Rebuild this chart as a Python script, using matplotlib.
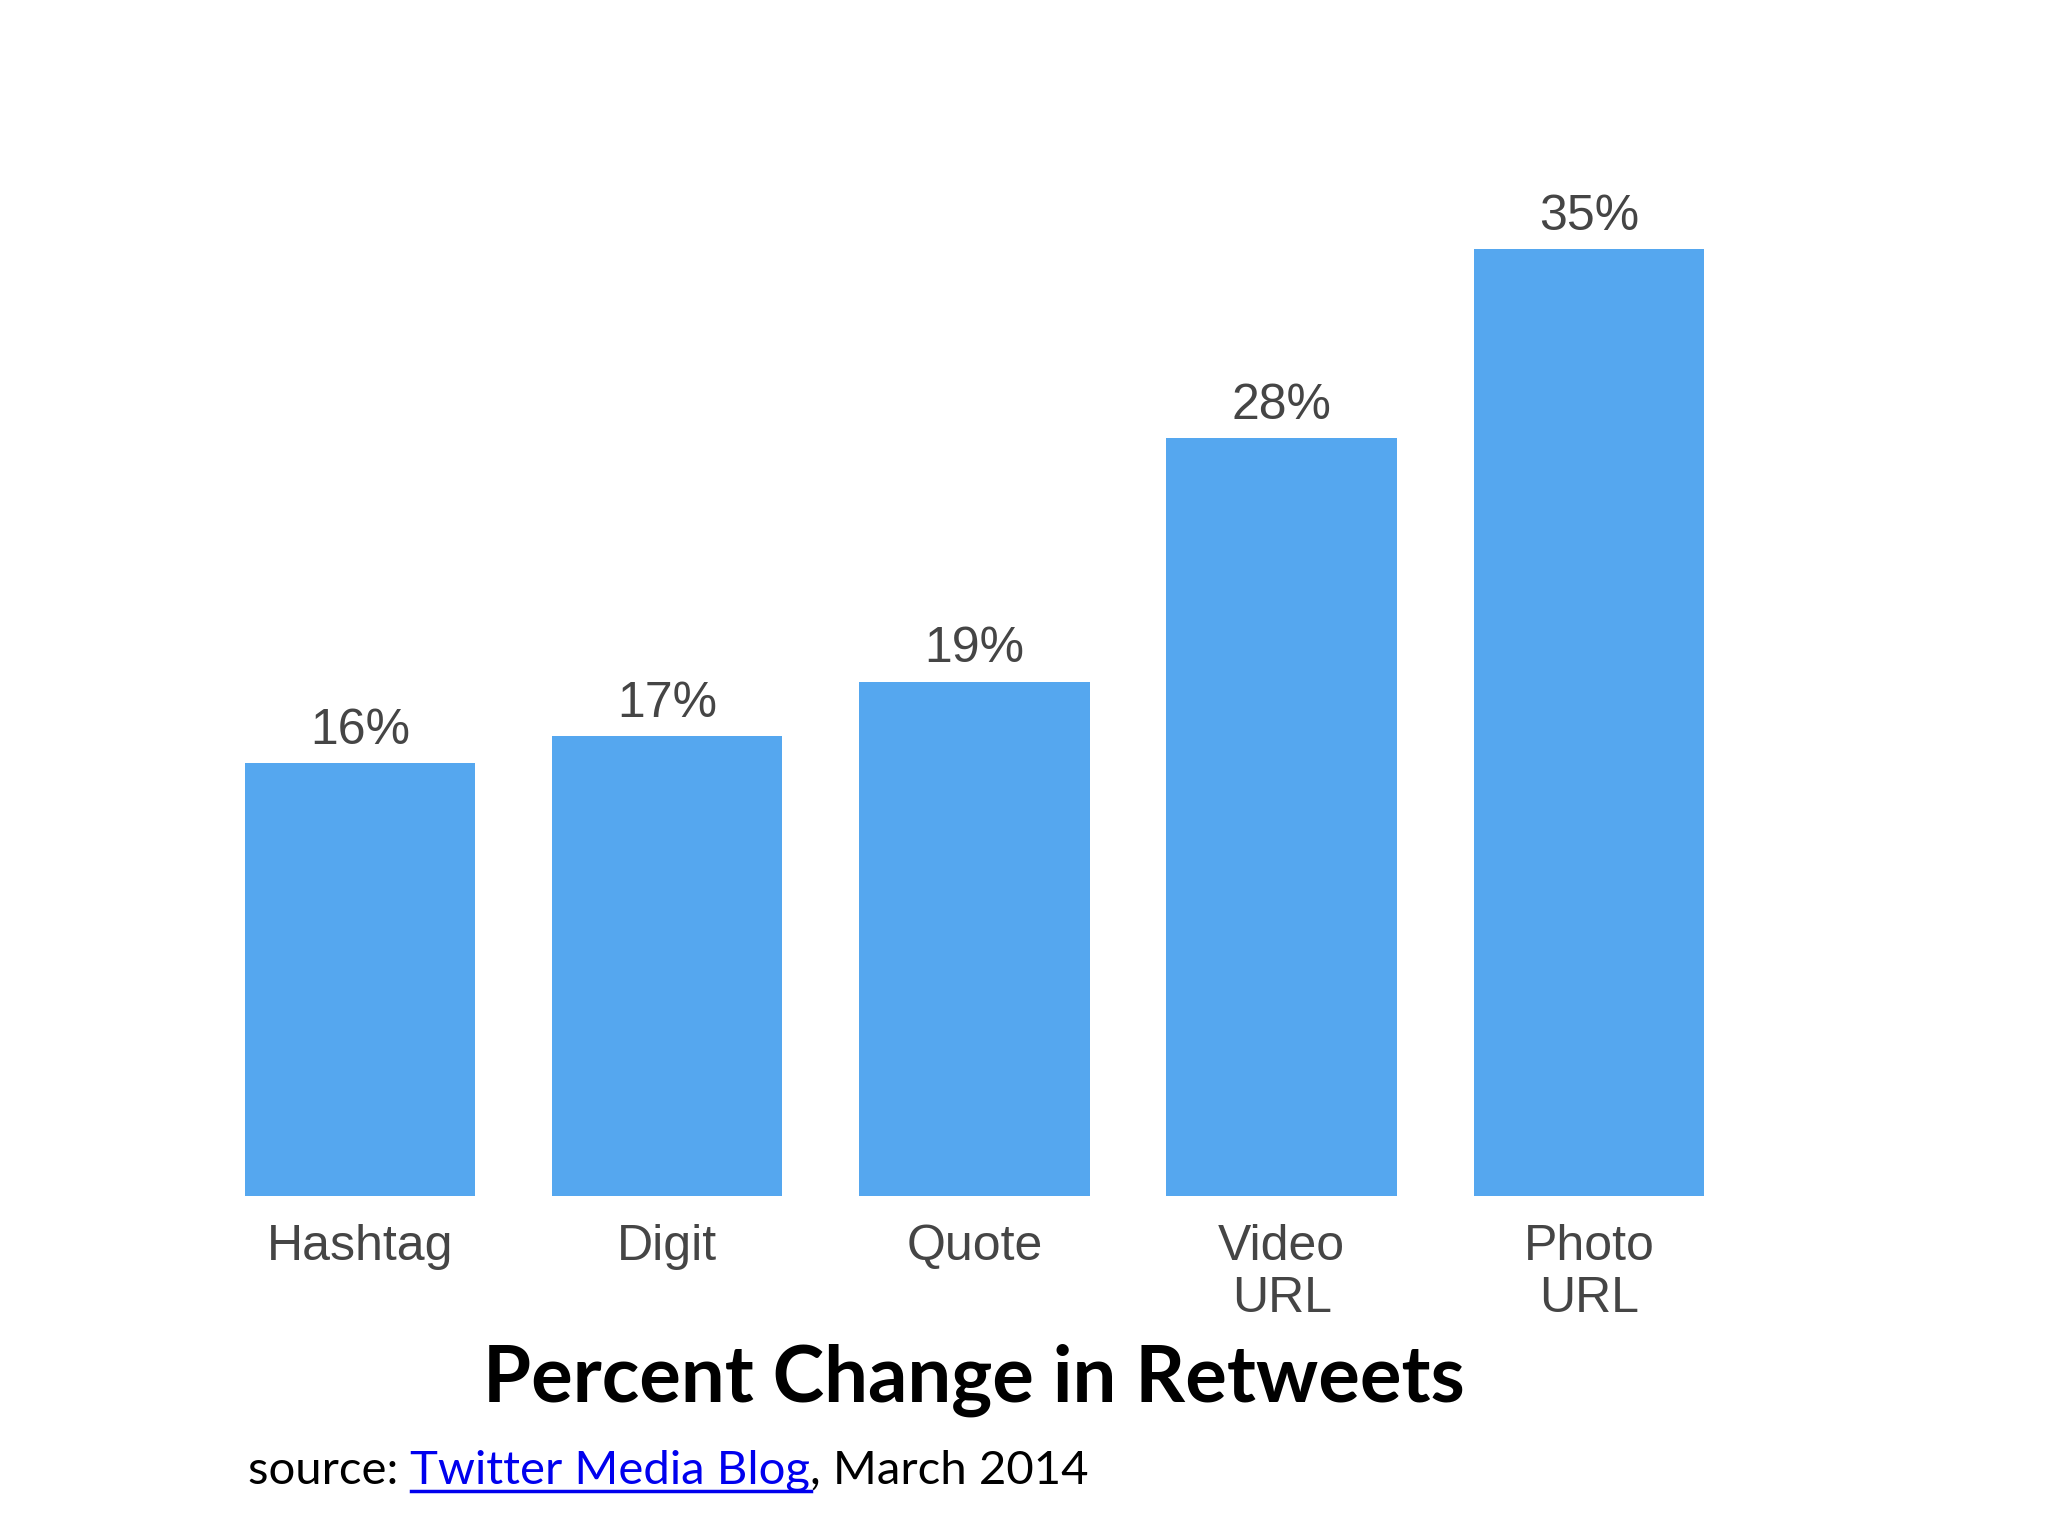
import matplotlib.pyplot as plt
from matplotlib.lines import Line2D

categories = ["Hashtag", "Digit", "Quote", "Video\nURL", "Photo\nURL"]
values = [16, 17, 19, 28, 35]
value_labels = ["16%", "17%", "19%", "28%", "35%"]

bar_color = "#55a7ef"
text_gray = "#454545"

fig = plt.figure(figsize=(20.48, 15.36), dpi=100)
ax = fig.add_axes([0.0858, 0.2214, 0.780, 0.7046])

x = range(len(categories))
bars = ax.bar(x, values, width=0.75, color=bar_color, edgecolor="none")
ax.set_xlim(-0.6, 4.6)
ax.set_ylim(0, 40)

for b, lab in zip(bars, value_labels):
    ax.annotate(lab, (b.get_x() + b.get_width() / 2, b.get_height()),
                xytext=(0, 14), textcoords="offset points",
                ha="center", va="baseline", fontsize=36,
                family="Liberation Sans", color=text_gray)

ax.set_xticks(list(x))
ax.set_xticklabels(categories, fontsize=36, family="Liberation Sans",
                   color=text_gray, linespacing=1.17)
ax.tick_params(axis="x", length=0, pad=20)
ax.set_yticks([])
for s in ax.spines.values():
    s.set_visible(False)

fig.text(0.4756, 0.1015, "Percent Change in Retweets", ha="center",
         va="center", fontsize=56, fontweight="bold", family="Lato",
         color="black")

# source line, link part in blue and underlined
renderer = fig.canvas.get_renderer()
sx, sy = 248 / 2048, 1 - 1484 / 1536
parts = [("source: ", "black"), ("Twitter Media Blog", "#0000ee"),
         (", March 2014", "black")]
for txt, col in parts:
    t = fig.text(sx, sy, txt, ha="left", va="baseline", fontsize=34,
                 family="Lato", color=col)
    bb = t.get_window_extent(renderer)
    if col != "black":
        uy = sy - 7 / 1536
        fig.add_artist(Line2D([sx, bb.x1 / 2048], [uy, uy], color=col,
                              linewidth=2.5, transform=fig.transFigure))
    sx = bb.x1 / 2048

fig.savefig("out.png", dpi=100, facecolor="white")
